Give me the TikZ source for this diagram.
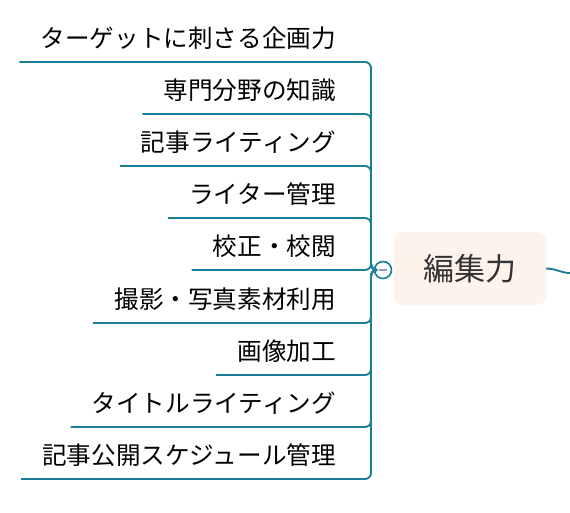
\documentclass[tikz,border=0pt]{standalone}
\usepackage{fontspec}
\setmainfont{Noto Sans CJK JP}
\usepackage{xcolor}
\usetikzlibrary{positioning,arrows.meta}
\definecolor{branch}{HTML}{1B7E98}
\definecolor{rootfill}{HTML}{FEF3EA}
\definecolor{knobmark}{HTML}{9A98C8}

\begin{document}
\begin{tikzpicture}[x=1pt, y=-1pt,
    item/.style={anchor=south east, inner xsep=21pt, inner ysep=0pt,
      text height=21pt, text depth=14pt, font=\fontsize{24.6}{28}\selectfont},
    topic/.style={rounded corners=9pt, fill=rootfill, minimum width=152pt,
      minimum height=73pt, text=black!80, font=\fontsize{31}{36}\selectfont},
    link/.style={draw=branch, line width=1.9pt, rounded corners=6pt}]
  \useasboundingbox (0,0) rectangle (570,513);

  \node[topic] (root) at (470,268.5) {編集力};
  \node[circle, draw=branch, line width=1.6pt, fill=white, minimum size=17pt,
    inner sep=0pt] (knob) at (383,270) {};
  \draw[knobmark, line width=1.8pt] ([xshift=-4pt]knob.center) -- ([xshift=4pt]knob.center);
  \coordinate (fork) at (371,270);
  \coordinate (next) at (572,273);

  \node[item] (i1) at (357,62) {ターゲットに刺さる企画力};
  \node[item] (i2) at (357,114) {専門分野の知識};
  \node[item] (i3) at (357,166) {記事ライティング};
  \node[item] (i4) at (357,218) {ライター管理};
  \node[item] (i5) at (357,270) {校正・校閲};
  \node[item] (i6) at (357,323) {撮影・写真素材利用};
  \node[item] (i7) at (357,375) {画像加工};
  \node[item] (i8) at (357,427) {タイトルライティング};
  \node[item] (i9) at (357,479) {記事公開スケジュール管理};

  \foreach \i in {1,...,9}
    \path[link] (knob.west) -- (fork) |- (i\i.south west);

  \draw[branch, line width=1.9pt] (root.east) to[out=0, in=183] (next);
\end{tikzpicture}
\end{document}
